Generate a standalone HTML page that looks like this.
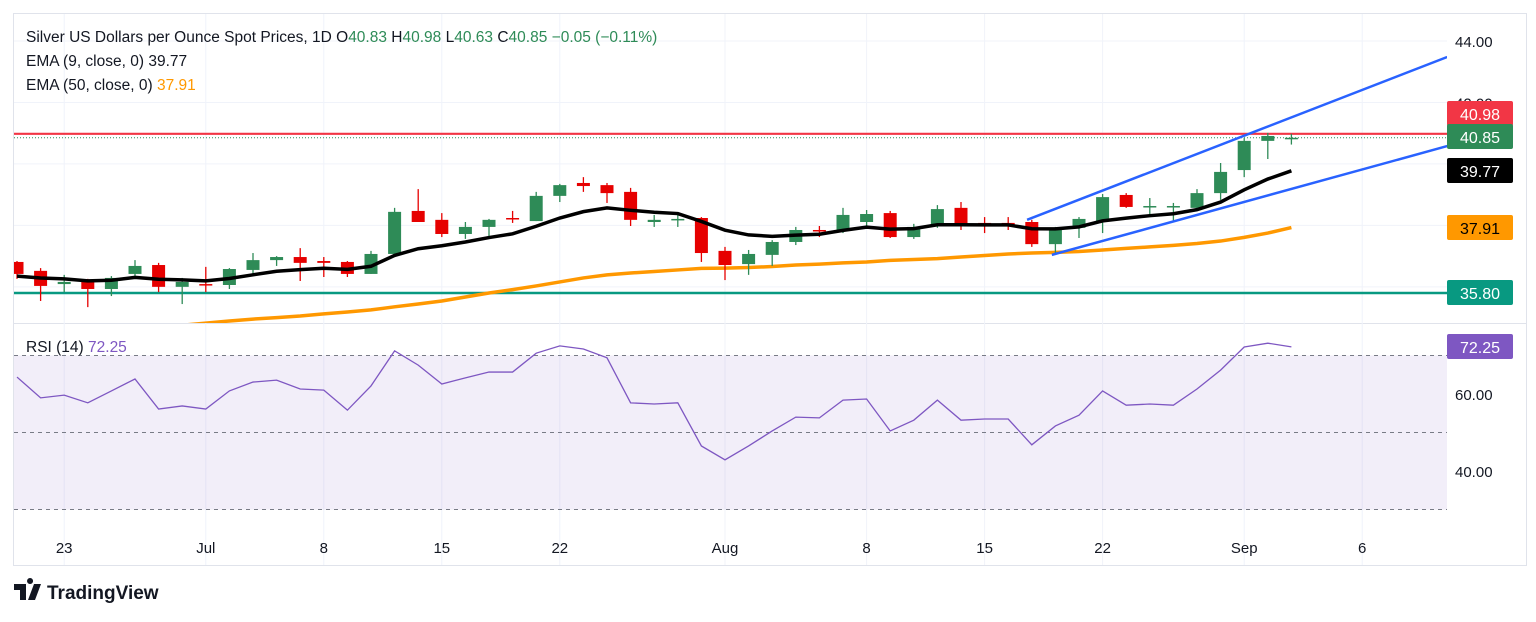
<!DOCTYPE html>
<html><head><meta charset="utf-8"><style>
body{margin:0;background:#fff;font-family:"Liberation Sans",sans-serif;}
svg text{font-family:"Liberation Sans",sans-serif;}
</style></head><body>
<svg id="c" width="1536" height="617" xmlns="http://www.w3.org/2000/svg"></svg>
<script>
const opens=[36.81,36.52,36.09,36.19,35.93,36.42,36.71,36.00,36.09,36.06,36.55,36.87,36.97,36.84,36.81,36.42,37.07,38.47,38.18,37.72,37.95,38.24,38.14,38.96,39.38,39.31,39.09,38.11,38.18,38.24,37.17,36.74,37.04,37.46,37.85,37.85,38.11,38.40,37.62,37.98,38.57,38.08,38.08,38.11,37.39,37.92,38.14,38.99,38.60,38.60,38.57,39.05,39.80,40.75,40.83];
const highs=[36.84,36.61,36.39,36.26,36.35,36.87,36.78,36.29,36.65,36.61,37.10,37.00,37.26,36.97,36.84,37.17,38.57,39.18,38.40,38.11,38.21,38.47,39.09,39.35,39.57,39.38,39.22,38.34,38.34,38.27,37.30,37.20,37.52,37.95,37.98,38.57,38.50,38.47,38.05,38.66,38.76,38.27,38.27,38.18,37.95,38.27,39.02,39.05,38.89,38.73,39.18,40.03,40.84,41.01,40.98];
const lows=[36.26,35.54,35.83,35.34,35.70,36.29,35.83,35.44,35.83,35.93,36.39,36.68,36.19,36.32,36.32,36.42,36.97,38.11,37.62,37.56,37.59,38.08,38.14,38.76,39.09,38.73,37.98,37.95,37.95,36.81,36.22,36.39,36.68,37.36,37.62,37.75,37.98,37.59,37.56,37.92,37.85,37.75,37.85,37.30,37.04,37.59,37.75,38.57,38.34,38.14,38.50,38.83,39.57,40.16,40.63];
const closes=[36.42,36.03,36.16,35.93,36.29,36.68,36.00,36.16,36.06,36.58,36.87,36.97,36.78,36.78,36.42,37.07,38.44,38.11,37.72,37.95,38.18,38.21,38.96,39.31,39.28,39.05,38.18,38.18,38.21,37.10,36.71,37.07,37.46,37.85,37.82,38.34,38.37,37.62,37.95,38.53,38.01,38.01,38.01,37.39,37.88,38.21,38.92,38.60,38.63,38.63,39.05,39.74,40.75,40.91,40.85];
const ema50=[34.35,34.40,34.45,34.50,34.55,34.62,34.69,34.75,34.82,34.89,34.95,35.00,35.05,35.12,35.18,35.25,35.35,35.44,35.54,35.67,35.80,35.91,36.03,36.16,36.29,36.39,36.45,36.50,36.55,36.60,36.61,36.63,36.66,36.71,36.74,36.78,36.81,36.86,36.89,36.92,36.97,37.02,37.07,37.10,37.12,37.15,37.20,37.25,37.30,37.35,37.41,37.49,37.61,37.75,37.93];
const rsi=[64.4,59,59.7,57.7,60.8,63.9,56.1,56.9,56.1,60.8,63.1,63.6,61.3,61,55.8,62.1,71.2,67.5,62.6,64.2,65.7,65.7,70.6,72.5,71.7,69.4,57.7,57.4,57.7,46.5,42.9,46.5,50.4,54,53.8,58.4,58.7,50.4,53.2,58.4,53.2,53.5,53.5,46.8,51.7,54.5,60.8,57.1,57.4,57.1,61.3,66.2,72.2,73.2,72.25];
const ema9Seed=36.35;
const priceTicks=[44,42,40,38,36];
const rsiTicks=[60,40];
const dateLabels=["23","Jul","8","15","22","Aug","8","15","22","Sep","6"];
const dateBars=[2,8,13,18,23,30,36,41,46,52,57];
const upperChannel=[[42.8,38.18],[60.6,43.48]];
const lowerChannel=[[43.85,37.04],[60.6,40.58]];

const NS="http://www.w3.org/2000/svg";
const svg=document.getElementById('c');
const L=14,R=1447;
const bx=i=>17+i*23.6;
const py=v=>41+(44-v)*30.73;
const ry=v=>394+(60-v)*3.85;
function el(tag,attrs,parent){const e=document.createElementNS(NS,tag);for(const k in attrs)e.setAttribute(k,attrs[k]);(parent||svg).appendChild(e);return e;}
function tx(x,y,s,attrs,parent){const t=el('text',Object.assign({x:x,y:y},attrs),parent);t.textContent=s;return t;}

let f=el('rect',{x:13.5,y:13.5,width:1513,height:552,fill:'none',stroke:'#e0e3eb'});

let sep=el('line',{x1:14,x2:1526,y1:323.5,y2:323.5,stroke:'#e0e3eb'});

priceTicks.forEach(v=>{let g=el('line',{x1:L,x2:R,y1:py(v),y2:py(v),stroke:'#f0f3fa'});});
dateBars.forEach(b=>{let g=el('line',{x1:bx(b),x2:bx(b),y1:14,y2:565,stroke:'#f0f3fa'});});
let band=el('rect',{x:L,y:ry(70),width:R-L,height:ry(30)-ry(70),fill:'#7e57c2','fill-opacity':0.1});

[70,50,30].forEach(v=>{let d=el('line',{x1:L,x2:R,y1:ry(v),y2:ry(v),stroke:'#787b86','stroke-dasharray':'4,4'});});

const defs=el('defs',{});
const cp=el('clipPath',{id:'pp'},defs);el('rect',{x:L,y:14,width:R-L,height:309},cp);
const gp=el('g',{'clip-path':'url(#pp)'});


let h1=el('line',{x1:L,x2:R,y1:py(40.98),y2:py(40.98),stroke:'#f23645','stroke-width':2.2},gp);

let h2=el('line',{x1:L,x2:R,y1:py(40.85),y2:py(40.85),stroke:'#2e8b57','stroke-dasharray':'1,2'},gp);

let h3=el('line',{x1:L,x2:R,y1:py(35.80),y2:py(35.80),stroke:'#089981','stroke-width':2.5},gp);


let p50=ema50.map((v,i)=>bx(i)+','+py(v)).join(' ');
let e50=el('polyline',{points:p50,fill:'none',stroke:'#ff9800','stroke-width':3.5},gp);


closes.forEach((c,i)=>{
  const o=opens[i],up=c>=o,col=up?'#2e8b57':'#e60000';
  const g=el('g',{},gp);
  
  
  el('line',{x1:bx(i),x2:bx(i),y1:py(highs[i]),y2:py(lows[i]),stroke:col,'stroke-width':1.3},g);
  const t=py(Math.max(o,c)),b=py(Math.min(o,c));
  el('rect',{x:bx(i)-6.5,y:t,width:13,height:Math.max(1.5,b-t),fill:col},g);
});
let e=ema9Seed,pts=[];const k=2/10;
closes.forEach((c,i)=>{if(i>0)e=c*k+e*(1-k);pts.push(bx(i)+','+py(e));});
let e9=el('polyline',{points:pts.join(' '),fill:'none',stroke:'#000','stroke-width':3.5},gp);

[upperChannel,lowerChannel].forEach((ln,j)=>{
  let c=el('line',{x1:bx(ln[0][0]),y1:py(ln[0][1]),x2:bx(ln[1][0]),y2:py(ln[1][1]),stroke:'#2962ff','stroke-width':2.5},gp);
  
});

let rp=rsi.map((v,i)=>bx(i)+','+ry(v)).join(' ');
let rl=el('polyline',{points:rp,fill:'none',stroke:'#7e57c2','stroke-width':1.3});


priceTicks.forEach(v=>{let t=tx(1455,py(v)+6,v.toFixed(2),{'font-size':15,fill:'#131722'});});
rsiTicks.forEach(v=>{let t=tx(1455,ry(v)+6,v.toFixed(2),{'font-size':15,fill:'#131722'});});
dateLabels.forEach((s,i)=>{let t=tx(bx(dateBars[i]),553,s,{'font-size':15,fill:'#131722','text-anchor':'middle'});});

[[101,'#f23645','40.98','#fff','high-tag'],[124,'#2e8b57','40.85','#fff','close-tag'],[158,'#000','39.77','#fff','ema9-tag'],[215,'#ff9800','37.91','#000','ema50-tag'],[280,'#089981','35.80','#fff','support-tag'],[334,'#7e57c2','72.25','#fff','rsi-tag']].forEach(a=>{
  const g=el('g',{});
  
  
  el('rect',{x:1447,y:a[0],width:66,height:25,rx:2,fill:a[1]},g);
  tx(1480,a[0]+19,a[2],{'font-size':16,fill:a[3],'text-anchor':'middle'},g);
});

function hdr(y,parts,name){const t=el('text',{x:26,y:y,'font-size':15.5});
  parts.forEach(p=>{const s=el('tspan',{fill:p[1]},t);s.textContent=p[0];});}
hdr(42,[['Silver US Dollars per Ounce Spot Prices, 1D  ','#131722'],['O','#131722'],['40.83  ','#2e8b57'],['H','#131722'],['40.98  ','#2e8b57'],['L','#131722'],['40.63  ','#2e8b57'],['C','#131722'],['40.85  −0.05  (−0.11%)','#2e8b57']],'legend-title');
hdr(66,[['EMA (9, close, 0)  ','#131722'],['39.77','#131722']],'legend-ema9');
hdr(90,[['EMA (50, close, 0)  ','#131722'],['37.91','#ff9800']],'legend-ema50');
hdr(352,[['RSI (14)  ','#131722'],['72.25','#7e57c2']],'legend-rsi');

const lg=el('g',{});
el('path',{d:'M14 584h12v16h-6v-10h-6z M30 584 a3 3 0 1 1 0.1 0 M34 584h7l-6 16h-7z',fill:'#131722'},lg);
tx(47,599,'TradingView',{'font-size':19,'font-weight':'bold',fill:'#131722'},lg);
</script>
</body></html>
